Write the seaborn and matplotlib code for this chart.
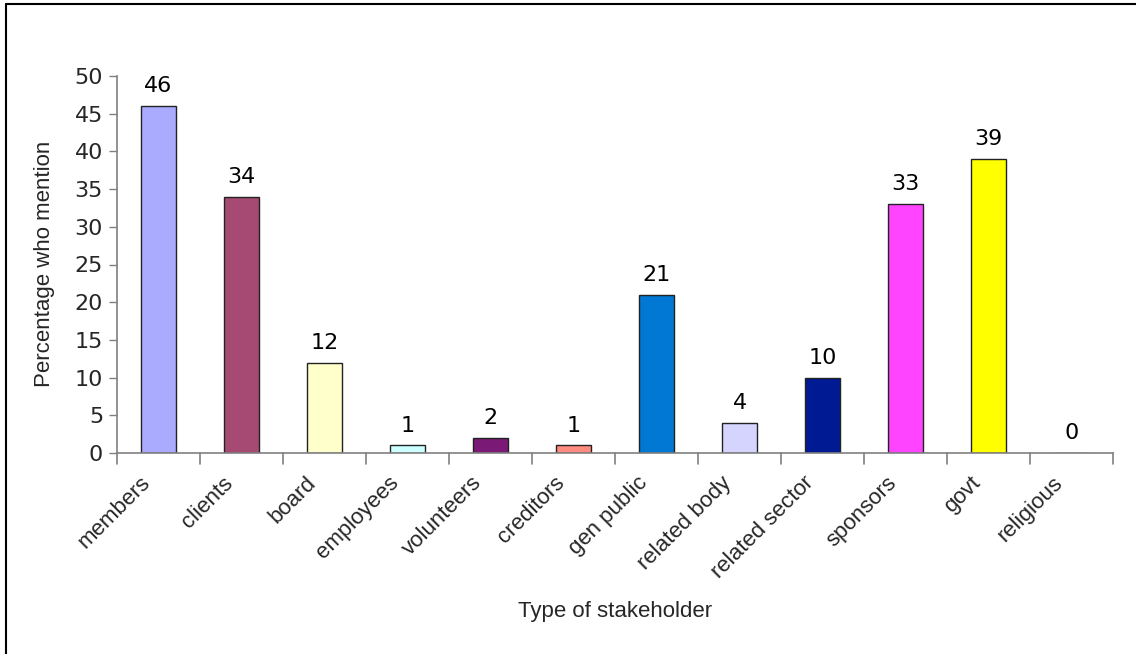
import matplotlib
matplotlib.use("Agg")
import matplotlib.pyplot as plt
import matplotlib.transforms as mtransforms
import seaborn as sns
import pandas as pd
from matplotlib.lines import Line2D

# Stakeholder mentions (percent)
categories = ["members", "clients", "board", "employees", "volunteers", "creditors",
              "gen public", "related body", "related sector", "sponsors", "govt", "religious"]
values = [46, 34, 12, 1, 2, 1, 21, 4, 10, 33, 39, 0]
bar_colors = ["#AAAAFF", "#A64A74", "#FFFFCC", "#CCFFFF", "#7A1A76", "#FF8A80",
              "#0078D4", "#D4D4FF", "#001A94", "#FF44FF", "#FFFF00", "#44FFFF"]
y_ticks = list(range(0, 51, 5))

df = pd.DataFrame({"stakeholder": categories, "pct": values})

sns.set_theme(style="white")
plt.rcParams["font.family"] = ["DejaVu Sans"]

fig = plt.figure(figsize=(11.36, 6.54), dpi=100)
ax = fig.add_axes([117 / 1136, 1 - 453 / 654, (1113 - 117) / 1136, (453 - 76) / 654])

sns.barplot(data=df, x="stakeholder", y="pct", hue="stakeholder", palette=bar_colors,
            legend=False, width=0.41, saturation=1, edgecolor="#222222", linewidth=1.0,
            ax=ax)

ax.set_ylim(0, 50)
ax.set_xlim(-0.5, len(categories) - 0.5)
ax.set_yticks(y_ticks)
ax.set_yticklabels([str(t) for t in y_ticks], fontsize=16, family="DejaVu Sans")

# Category labels, with tick marks between categories
ax.set_xticks(range(len(categories)))
ax.set_xticklabels(categories, rotation=45, ha="right", rotation_mode="anchor",
                   fontsize=16, family="Liberation Sans")
ax.tick_params(axis="x", length=0, pad=14)
shift = mtransforms.ScaledTranslation(-19 / 100, 0, fig.dpi_scale_trans)
for lbl in ax.get_xticklabels():
    lbl.set_transform(lbl.get_transform() + shift)
for b in [i - 0.5 for i in range(len(categories) + 1)]:
    ax.plot([b, b], [0, -0.028], transform=ax.get_xaxis_transform(),
            color="#808080", lw=1.2, clip_on=False)
ax.tick_params(axis="y", direction="out", length=6, width=1, color="#808080",
               left=True, pad=4)

for s in ["top", "right"]:
    ax.spines[s].set_visible(False)
for s in ["left", "bottom"]:
    ax.spines[s].set_color("#808080")
    ax.spines[s].set_linewidth(1.2)

# Value labels above bars
for i, v in enumerate(values):
    ax.text(i, v + 1.3, str(v), ha="center", va="bottom", fontsize=16,
            family="DejaVu Sans", color="black")

ax.set_xlabel("")
ax.set_ylabel("")
fig.text(45 / 1136, 1 - 264 / 654, "Percentage who mention", rotation=90,
         ha="center", va="center", fontsize=16, family="Liberation Sans")
fig.text(615 / 1136, 1 - 612 / 654, "Type of stakeholder",
         ha="center", va="center", fontsize=16, family="Liberation Sans")

# Outer frame lines (top and left)
fig.add_artist(Line2D([6 / 1136, 1], [1 - 4 / 654, 1 - 4 / 654], color="black", lw=1.5,
                      transform=fig.transFigure))
fig.add_artist(Line2D([6 / 1136, 6 / 1136], [0, 1 - 4 / 654], color="black", lw=1.5,
                      transform=fig.transFigure))

fig.savefig("out.png", dpi=100, facecolor="white")
